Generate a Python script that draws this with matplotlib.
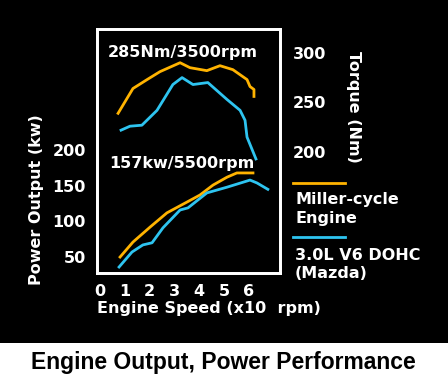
import matplotlib
matplotlib.use("Agg")
import matplotlib.pyplot as plt
from matplotlib.patches import Rectangle

# Data (engine speed in x1000 rpm)
miller_torque_x = [0.73, 1.33, 1.90, 2.42, 3.23, 3.63, 4.31, 4.84, 5.36, 5.93, 6.05, 6.21, 6.21]
miller_torque_y = [239, 264, 273, 281, 290, 285, 282, 287, 283, 273, 266, 263, 256]
mazda_torque_x = [0.85, 1.21, 1.69, 2.30, 2.94, 3.31, 3.75, 4.35, 5.12, 5.65, 5.85, 5.93, 6.29]
mazda_torque_y = [222, 226, 227, 242, 268, 275, 268, 270, 253, 242, 232, 215, 193]
miller_power_x = [0.81, 1.33, 2.02, 2.70, 3.50, 4.03, 4.56, 5.12, 5.52, 6.17]
miller_power_y = [50, 71, 92, 112, 127, 137, 151, 162, 168, 168]
mazda_power_x = [0.77, 1.29, 1.73, 2.10, 2.54, 3.23, 3.55, 4.31, 5.12, 6.05, 6.33, 6.77]
mazda_power_y = [36, 57, 67, 70, 91, 116, 119, 140, 148, 158, 154, 145]

x_ticks = [0, 1, 2, 3, 4, 5, 6]
power_ticks = [50, 100, 150, 200]
torque_ticks = [200, 250, 300]

ORANGE = "#FFB300"
BLUE = "#2EC4F0"
W = 448
H = 388

fig = plt.figure(figsize=(W / 100, H / 100), dpi=100, facecolor="white")
bg = Rectangle((0, (H - 343) / H), 1, 343 / H, transform=fig.transFigure,
               facecolor="black", edgecolor="none", zorder=-10)
fig.add_artist(bg)

ax = fig.add_axes([97 / W, (H - 273) / H, 183 / W, 244 / H])
ax.set_facecolor("black")
ax2 = ax.twinx()

lw = 2.0
ax.plot(miller_power_x, miller_power_y, color=ORANGE, lw=lw, solid_joinstyle="round")
ax.plot(mazda_power_x, mazda_power_y, color=BLUE, lw=lw, solid_joinstyle="round")
ax2.plot(miller_torque_x, miller_torque_y, color=ORANGE, lw=lw, solid_joinstyle="round")
ax2.plot(mazda_torque_x, mazda_torque_y, color=BLUE, lw=lw, solid_joinstyle="round")

ax.set_xlim(-0.12, 7.26)
ax.set_ylim(27.6, 370)
ax2.set_ylim(78, 324)

fs = 11.5
font = dict(color="white", fontweight="bold", fontsize=fs)
ax.set_xticks(x_ticks)
ax.set_xticklabels([str(t) for t in x_ticks], **font)
ax.set_yticks(power_ticks)
ax.set_yticklabels([str(t) for t in power_ticks], **font)
ax2.set_yticks(torque_ticks)
ax2.set_yticklabels([str(t) for t in torque_ticks], **font)
ax.tick_params(axis="both", length=0, pad=8)
ax2.tick_params(axis="y", length=0, pad=9)

for a in (ax, ax2):
    for s in a.spines.values():
        s.set_color("white")
        s.set_linewidth(2)

fig.text(37 / W, 1 - 200 / H, "Power Output (kw)", rotation=90, ha="center", va="center", **font)
fig.text(353 / W, 1 - 107 / H, "Torque (Nm)", rotation=270, ha="center", va="center", **font)
fig.text(97 / W, 1 - 308 / H, "Engine Speed (x10  rpm)", ha="left", va="center", **font)

fig.text(183 / W, 1 - 52 / H, "285Nm/3500rpm", ha="center", va="center", **font)
fig.text(182 / W, 1 - 163 / H, "157kw/5500rpm", ha="center", va="center", **font)

# legend
fig.add_artist(plt.Line2D([293 / W, 345 / W], [1 - 183 / H, 1 - 183 / H], color=ORANGE, lw=lw))
fig.text(295 / W, 1 - 200 / H, "Miller-cycle", ha="left", va="center", **font)
fig.text(295 / W, 1 - 219 / H, "Engine", ha="left", va="center", **font)
fig.add_artist(plt.Line2D([293 / W, 345 / W], [1 - 237 / H, 1 - 237 / H], color=BLUE, lw=lw))
fig.text(295 / W, 1 - 256 / H, "3.0L V6 DOHC", ha="left", va="center", **font)
fig.text(295 / W, 1 - 274 / H, "(Mazda)", ha="left", va="center", **font)

fig.text(223 / W, 1 - 362 / H, "Engine Output, Power Performance", ha="center", va="center",
         color="black", fontweight="bold", fontsize=16.5, family="Liberation Sans")

fig.savefig("out.png", dpi=100, facecolor="white")
